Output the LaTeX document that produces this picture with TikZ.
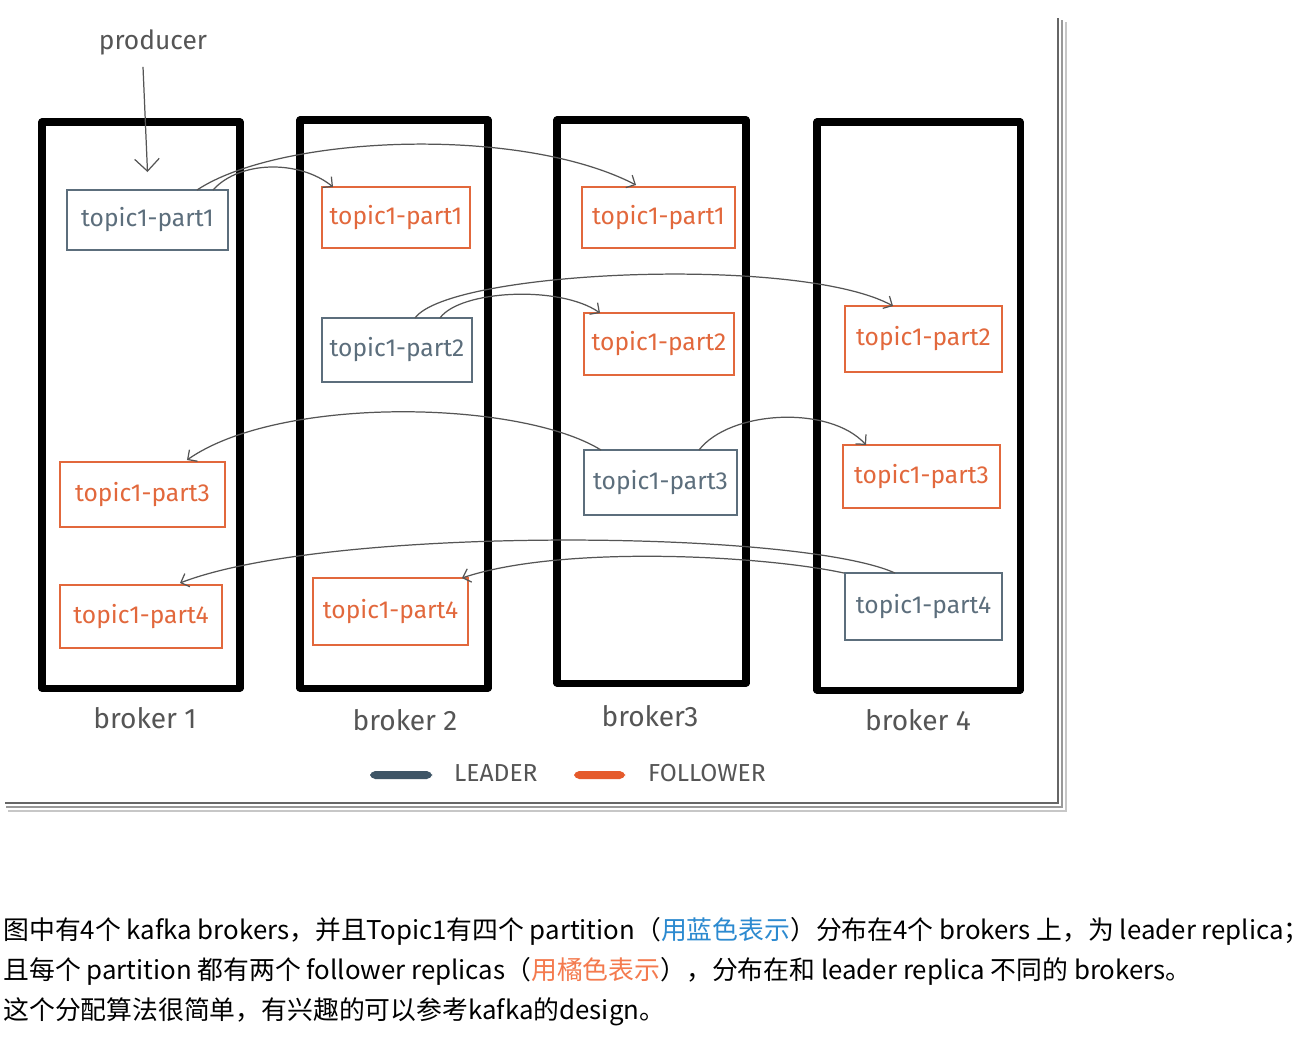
\documentclass[tikz,border=0pt]{standalone}
\usepackage{fontspec}
\setmainfont{Fira Sans}
\newfontfamily\cjk{Noto Sans CJK SC}
\usetikzlibrary{arrows.meta}
\definecolor{leadc}{HTML}{5C6E7C}
\definecolor{follc}{HTML}{E2683C}
\definecolor{linkblue}{HTML}{2C8AD0}
\definecolor{linkorange}{HTML}{F47A4E}
\definecolor{inkc}{HTML}{555555}
\definecolor{legblue}{HTML}{3E5566}
\definecolor{legorange}{HTML}{E55A2B}
\newcommand\mkbox[7]{\node[#6, minimum width={(#4-#2)*0.02cm}, minimum height={(#5-#3)*0.02cm}] (#1) at ({(#2+#4)/2},{(#3+#5)/2}) {#7};}
\begin{document}
\begin{tikzpicture}[x=0.02cm,y=-0.02cm,
  broker/.style={draw=black, line width=4pt, line join=round, inner sep=0pt, outer sep=0pt},
  part/.style={draw, line width=0.9pt, inner sep=0pt, outer sep=0pt, font=\fontsize{14}{16}\selectfont},
  lead/.style={part, draw=leadc, text=leadc},
  foll/.style={part, draw=follc, text=follc},
  conn/.style={draw=inkc, line width=0.7pt, -{Straight Barb[length=4pt,width=8pt]}},
  blabel/.style={text=inkc, font=\fontsize{16}{18}\selectfont},
  para/.style={anchor=base west, inner sep=0pt, font=\cjk\fontsize{14.7}{17}\selectfont}]
\useasboundingbox[fill=white] (0,0) rectangle (1314,1036);
% frame shadow
\draw[line width=1.4pt, black!60] (1058,18) -- (1058,803) -- (5,803);
\draw[line width=1.4pt, black!40] (1062,20) -- (1062,807) -- (6,807);
\draw[line width=1.4pt, black!22] (1066,22) -- (1066,811) -- (8,811);
% brokers
\mkbox{b1}{42}{122}{240}{688}{broker}{}
\mkbox{b2}{300}{120}{488}{688}{broker}{}
\mkbox{b3}{557}{120}{746}{683}{broker}{}
\mkbox{b4}{817}{122}{1020}{690}{broker}{}
% partitions
\mkbox{b1p1}{67}{190}{228}{250}{lead}{topic1-part1}
\mkbox{b2p1}{322}{187}{470}{248}{foll}{topic1-part1}
\mkbox{b3p1}{582}{187}{735}{248}{foll}{topic1-part1}
\mkbox{b2p2}{322}{318}{472}{382}{lead}{topic1-part2}
\mkbox{b3p2}{584}{313}{734}{375}{foll}{topic1-part2}
\mkbox{b4p2}{845}{306}{1002}{372}{foll}{topic1-part2}
\mkbox{b1p3}{60}{462}{225}{527}{foll}{topic1-part3}
\mkbox{b3p3}{584}{450}{737}{515}{lead}{topic1-part3}
\mkbox{b4p3}{843}{445}{1000}{508}{foll}{topic1-part3}
\mkbox{b1p4}{60}{585}{222}{648}{foll}{topic1-part4}
\mkbox{b2p4}{313}{578}{468}{645}{foll}{topic1-part4}
\mkbox{b4p4}{845}{573}{1002}{640}{lead}{topic1-part4}
% labels
\node[text=inkc, font=\fontsize{15}{17}\selectfont] (prod) at (153,42) {producer};
\node[blabel] (l1) at (145,718) {broker 1};
\node[blabel] (l2) at (405,720) {broker 2};
\node[blabel] (l3) at (650,716) {broker3};
\node[blabel] (l4) at (918,720) {broker 4};
% legend
\mkbox{legL}{370}{771}{432}{779}{fill=legblue, rounded corners=3pt, inner sep=0pt}{}
\mkbox{legF}{574}{771}{625}{779}{fill=legorange, rounded corners=3pt, inner sep=0pt}{}
\node[text=inkc, font=\fontsize{14}{16}\selectfont, anchor=west] (legLt) at (448,773) {LEADER};
\node[text=inkc, font=\fontsize{14}{16}\selectfont, anchor=west] (legFt) at (642,773) {FOLLOWER};
% connectors
\draw[conn, -{Straight Barb[length=7pt,width=14pt]}] ([xshift=-0.2cm,yshift=-0.12cm]prod.south) -- ([yshift=0.36cm]b1p1.north);
\draw[conn] ([xshift=1.31cm]b1p1.north) .. controls (240,160) and (300,160) .. ([xshift=-1.26cm]b2p1.north);
\draw[conn] ([xshift=0.99cm]b1p1.north) .. controls (280,135) and (520,125) .. ([xshift=-0.45cm,yshift=0.04cm]b3p1.north);
\draw[conn] ([xshift=0.86cm]b2p2.north) .. controls (460,290) and (560,285) .. ([xshift=-1.18cm]b3p2.north);
\draw[conn] ([xshift=0.36cm]b2p2.north) .. controls (450,270) and (800,255) .. ([xshift=-0.61cm]b4p2.north);
\draw[conn] ([xshift=-1.19cm]b3p3.north) .. controls (520,400) and (280,395) .. ([xshift=0.89cm,yshift=0.04cm]b1p3.north);
\draw[conn] ([xshift=0.77cm]b3p3.north) .. controls (730,410) and (830,405) .. ([xshift=-1.11cm]b4p3.north);
\draw[conn] ([xshift=-0.57cm]b4p4.north) .. controls (800,530) and (330,525) .. ([xshift=0.78cm,yshift=0.04cm]b1p4.north);
\draw[conn] ([xshift=-1.59cm]b4p4.north) .. controls (760,555) and (560,545) .. ([xshift=1.43cm]b2p4.north);
% paragraph
\node[para] (t1) at (3,939) {图中有4个 kafka brokers，并且Topic1有四个 partition（\textcolor{linkblue}{用蓝色表示}）分布在4个 brokers 上，为 leader replica；};
\node[para] (t2) at (3,979) {且每个 partition 都有两个 follower replicas（\textcolor{linkorange}{用橘色表示}），分布在和 leader replica 不同的 brokers。};
\node[para] (t3) at (3,1019) {这个分配算法很简单，有兴趣的可以参考kafka的design。};
\end{tikzpicture}
\end{document}
